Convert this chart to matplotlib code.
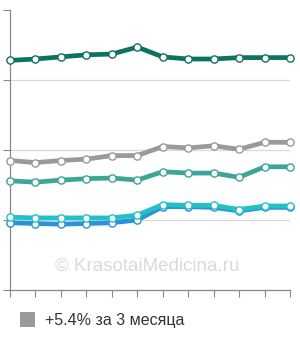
import matplotlib.pyplot as plt

# values (one point per month-ish step)
months = list(range(12))
series_dark = [3.28, 3.30, 3.33, 3.36, 3.37, 3.47, 3.33, 3.30, 3.30, 3.32, 3.32, 3.32]
series_grey = [1.85, 1.82, 1.85, 1.87, 1.92, 1.92, 2.05, 2.03, 2.06, 2.01, 2.11, 2.11]
series_teal = [1.56, 1.54, 1.57, 1.59, 1.60, 1.57, 1.69, 1.67, 1.67, 1.61, 1.76, 1.76]
series_cyan = [1.04, 1.03, 1.03, 1.03, 1.03, 1.07, 1.22, 1.21, 1.21, 1.15, 1.20, 1.20]
series_blue = [0.96, 0.95, 0.94, 0.95, 0.96, 1.00, 1.19, 1.19, 1.18, 1.13, 1.18, 1.18]
grid_levels = [1, 2, 3]
legend_label = "+5.4% за 3 месяца"
watermark = "© KrasotaiMedicina.ru"


def main():
    plt.rcParams['font.family'] = ['Liberation Sans', 'DejaVu Sans']
    fig = plt.figure(figsize=(3.0, 3.4), dpi=100)
    ax = fig.add_axes([10 / 300, 50 / 340, 280 / 300, 280 / 340])

    for y in grid_levels:
        ax.axhline(y, color="#d9d9d9", linewidth=0.9, zorder=0)

    lines = [
        (series_blue, "#2a93d5"),
        (series_cyan, "#22c1c6"),
        (series_teal, "#3ba597"),
        (series_grey, "#9a9a9a"),
        (series_dark, "#0e7262"),
    ]
    for values, color in lines:
        ax.plot(months, values, "-o", color=color, linewidth=3.4,
                markersize=5.2, markerfacecolor="white",
                markeredgecolor=color, markeredgewidth=1.0,
                solid_joinstyle="round", clip_on=False, zorder=3)

    ax.set_xlim(0, 11)
    ax.set_ylim(0, 4)
    ax.set_xticks(months)
    ax.set_yticks([0, 1, 2, 3, 4])
    ax.set_xticklabels([])
    ax.set_yticklabels([])
    ax.tick_params(axis="both", length=5, width=0.8, color="#888888", direction="out")
    for side in ["top", "right"]:
        ax.spines[side].set_visible(False)
    for side in ["left", "bottom"]:
        ax.spines[side].set_color("#888888")
        ax.spines[side].set_linewidth(0.9)

    fig.text(147 / 300, 1 - 266 / 340, watermark, fontsize=13.5,
             color="#dadada", ha="center", va="center")

    fig.patches.append(plt.Rectangle((20 / 300, 1 - 327 / 340), 15 / 300, 15 / 340,
                                     transform=fig.transFigure,
                                     facecolor="#9a9a9a", edgecolor="none"))
    fig.text(45 / 300, 1 - 320 / 340, legend_label, fontsize=11.5,
             color="#333333", ha="left", va="center")

    fig.savefig("out.png", dpi=100)


if __name__ == '__main__':
    main()
